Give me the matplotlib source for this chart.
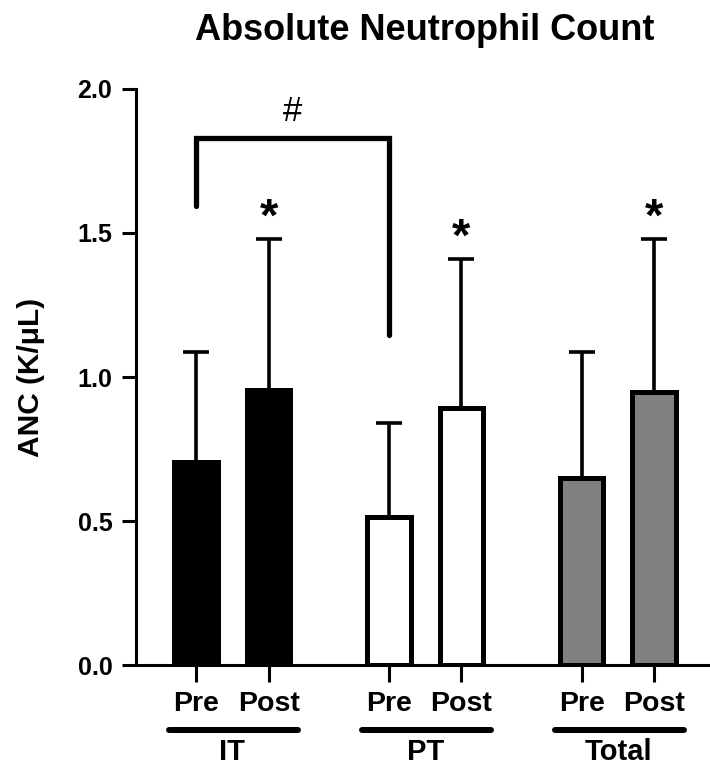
import matplotlib.pyplot as plt
import numpy as np

plt.rcParams['font.family'] = ['Liberation Sans', 'DejaVu Sans']

# values
conds = ["Pre", "Post", "Pre", "Post", "Pre", "Post"]
groups = ["IT", "PT", "Total"]
xpos = [0, 1, 2.66, 3.66, 5.32, 6.32]
means = [0.705, 0.955, 0.514, 0.892, 0.649, 0.948]
sd = [0.382, 0.524, 0.326, 0.518, 0.438, 0.531]
fills = ["black", "black", "white", "white", "#808080", "#808080"]
stars = ["", "*", "", "*", "", "*"]

fig = plt.figure(figsize=(7.1, 7.69), dpi=100)
ax = fig.add_axes([0.1915, 0.1352, 0.8085, 0.7491])

ax.bar(xpos, means, width=0.6, color=fills, edgecolor="black", linewidth=3.6, zorder=3)
ax.errorbar(xpos, means, yerr=[np.zeros(len(sd)), sd], fmt="none", ecolor="black",
            elinewidth=2.6, capsize=9.5, capthick=2.6, zorder=2)

# significance stars above the caps
for x, m, s, st in zip(xpos, means, sd, stars):
    if st:
        ax.text(x, m + s + 0.028, st, ha="center", va="baseline", fontsize=34,
                fontweight="bold")

# bracket IT Pre vs PT Pre
ax.plot([xpos[0], xpos[0], xpos[2], xpos[2]], [1.594, 1.83, 1.83, 1.146],
        color="black", lw=3.8, solid_capstyle="round", solid_joinstyle="miter",
        clip_on=False)
ax.text((xpos[0] + xpos[2]) / 2, 1.889, "#", ha="center", va="baseline", fontsize=25)

ax.set_xlim(-0.83, 7.09)
ax.set_ylim(0, 2.0)
ax.set_yticks([0, 0.5, 1.0, 1.5, 2.0])
ax.set_yticklabels(["0.0", "0.5", "1.0", "1.5", "2.0"])
ax.set_xticks(xpos)
ax.set_xticklabels(conds)

for lab in ax.get_yticklabels():
    lab.set_fontsize(18)
    lab.set_fontweight("bold")
for lab in ax.get_xticklabels():
    lab.set_fontsize(20.5)
    lab.set_fontweight("bold")

ax.tick_params(axis="y", length=10, width=2.2, pad=7)
ax.tick_params(axis="x", length=12, width=2.2, pad=7)

ax.spines["top"].set_visible(False)
ax.spines["right"].set_visible(False)
ax.spines["left"].set_linewidth(2.2)
ax.spines["bottom"].set_linewidth(2.2)

# group underlines and labels
for i, g in enumerate(groups):
    x0 = xpos[2 * i] - 0.37
    x1 = xpos[2 * i + 1] + 0.41
    ax.plot([x0, x1], [-0.226, -0.226], color="black", lw=4.3, solid_capstyle="round",
            clip_on=False)
    ax.text((xpos[2 * i] + xpos[2 * i + 1]) / 2, -0.255, g, ha="center", va="top",
            fontsize=21, fontweight="bold")

fig.text(0.043, 0.509, "ANC (K/μL)", rotation=90, ha="center", va="center",
         fontsize=21.5, fontweight="bold")
fig.text(0.598, 0.948, "Absolute Neutrophil Count", ha="center", va="baseline",
         fontsize=26, fontweight="bold")

fig.savefig("out.png", dpi=100)
